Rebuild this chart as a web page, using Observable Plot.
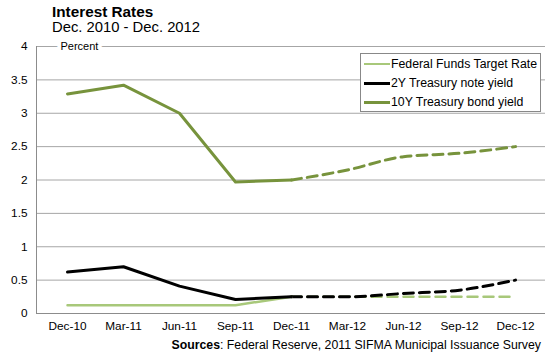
<!DOCTYPE html>
<html><head><meta charset="utf-8">
<script src="https://cdn.jsdelivr.net/npm/d3@7"></script>
<script src="https://cdn.jsdelivr.net/npm/@observablehq/plot@0.6"></script>
<style>
body{margin:0;background:#fff;font-family:"Liberation Sans",Arial,sans-serif;}
#wrap{position:relative;width:545px;height:356px;}
#title{position:absolute;left:52px;top:3px;font-size:15.3px;font-weight:bold;color:#000;}
#subtitle{position:absolute;left:52px;top:19px;font-size:14.8px;color:#000;}
#chart{position:absolute;left:0;top:38px;}
#legend{position:absolute;left:360px;top:53px;width:179px;height:57px;border:1px solid #888;background:#fff;font-size:12.3px;}
.row{position:absolute;left:3px;height:18px;display:flex;align-items:center;}
.sw{width:26px;height:0;margin-right:1px;}
#caption{position:absolute;right:4px;top:338px;font-size:12.3px;color:#000;}
</style></head>
<body><div id="wrap">
<div id="title">Interest Rates</div>
<div id="subtitle">Dec. 2010 - Dec. 2012</div>
<div id="chart"></div>
<div id="legend"></div>
<div id="caption"><b>Sources</b>: Federal Reserve, 2011 SIFMA Municipal Issuance Survey</div>
</div>
<script>
const months = ["Dec-10","Mar-11","Jun-11","Sep-11","Dec-11","Mar-12","Jun-12","Sep-12","Dec-12"];
const fedFunds = [0.125,0.125,0.125,0.125,0.25,0.25,0.25,0.25,0.25];
const twoYear  = [0.62,0.70,0.41,0.21,0.25,0.25,0.30,0.35,0.50];
const tenYear  = [3.29,3.42,3.00,1.97,2.00,2.15,2.35,2.40,2.50];
const lastActual = 4; // index of Dec-11
const seriesNames = ["Federal Funds Target Rate","2Y Treasury note yield","10Y Treasury bond yield"];
const seriesColors = ["#a8c87a","#000000","#77933c"];
const seriesWidths = [2.5,3,3];
const yTicks = [0,0.5,1,1.5,2,2.5,3,3.5,4];

const allSeries = [fedFunds, twoYear, tenYear];
const actual = [], forecast = [];
allSeries.forEach((vals, s) => {
  vals.forEach((v, i) => {
    const row = {series: seriesNames[s], month: months[i], value: v};
    if (i <= lastActual) actual.push(row);
    if (i >= lastActual) forecast.push(row);
  });
});

const marks = [
  Plot.ruleY(yTicks.filter(d => d > 0), {stroke: "#a6a6a6", strokeWidth: 1}),
  Plot.ruleY([0], {stroke: "#8c8c8c", strokeWidth: 1}),
  Plot.frame({anchor: "left", stroke: "#8c8c8c"}),
  Plot.text(["Percent"], {frameAnchor: "top-left", dx: 24, lineAnchor: "middle", textAnchor: "start", fontSize: 11, fill: "#000", stroke: "white", strokeWidth: 8}),
];
seriesNames.forEach((name, s) => {
  marks.push(Plot.line(forecast.filter(d => d.series === name), {
    x: "month", y: "value", stroke: seriesColors[s], strokeWidth: seriesWidths[s],
    strokeDasharray: "10,6", curve: "monotone-x"
  }));
});
seriesNames.forEach((name, s) => {
  marks.push(Plot.line(actual.filter(d => d.series === name), {
    x: "month", y: "value", stroke: seriesColors[s], strokeWidth: seriesWidths[s], curve: "linear"
  }));
});

const chart = Plot.plot({
  width: 545, height: 296,
  marginLeft: 36, marginRight: 0, marginTop: 8, marginBottom: 21,
  style: {fontFamily: '"Liberation Sans", Arial, sans-serif', fontSize: "11.8px", color: "#000", background: "#fff"},
  x: {type: "point", domain: months, padding: 0.5, tickSize: 0, tickPadding: 8, label: null},
  y: {domain: [0, 4], ticks: yTicks, tickSize: 0, tickPadding: 9, label: null, tickFormat: d => String(d)},
  marks
});
document.getElementById("chart").appendChild(chart);

const legend = document.getElementById("legend");
seriesNames.forEach((name, s) => {
  const row = document.createElement("div");
  row.className = "row";
  row.style.top = (1 + s * 19) + "px";
  const sw = document.createElement("span");
  sw.className = "sw";
  sw.style.borderTop = seriesWidths[s] + "px solid " + seriesColors[s];
  row.appendChild(sw);
  const t = document.createElement("span");
  t.textContent = name;
  row.appendChild(t);
  legend.appendChild(row);
});
</script>
</body></html>
